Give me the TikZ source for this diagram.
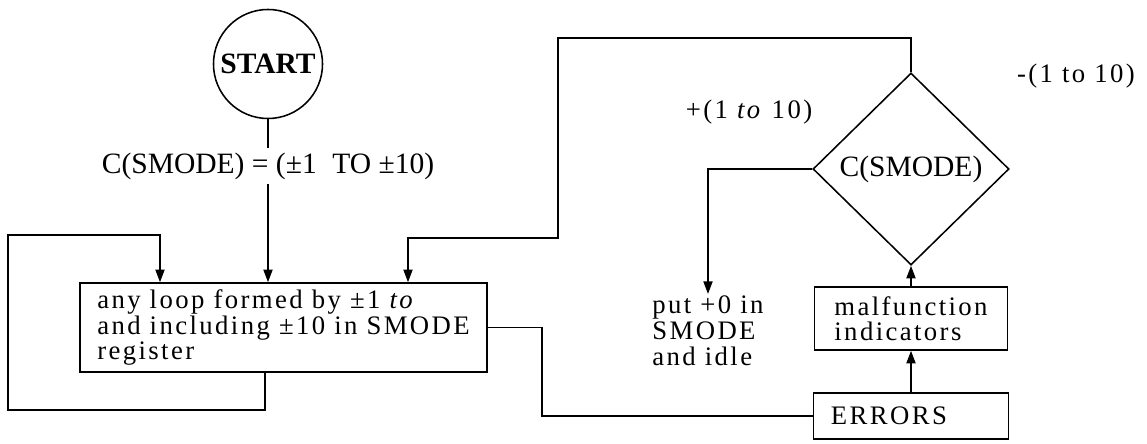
\documentclass[tikz,border=0pt]{standalone}
\usepackage{fontspec}
\setmainfont{Liberation Serif}
\newfontfamily\wideserif[LetterSpace=9]{Liberation Serif}
\usetikzlibrary{shapes.geometric,arrows.meta}

\tikzset{
  flowline/.style={line width=1.1pt},
  flowarrow/.style={flowline, -{Triangle[length=9pt,width=6.5pt]}},
  procbox/.style={draw, line width=1.1pt, align=left, inner sep=0pt,
    font=\wideserif\fontsize{19}{18}\selectfont},
  freetext/.style={inner sep=1pt, font=\wideserif\fontsize{19}{18.5}\selectfont},
  caplabel/.style={inner sep=3pt, font=\fontsize{21}{23}\selectfont},
  termcircle/.style={draw, circle, line width=1.1pt, inner sep=0pt,
    minimum size=2.725cm, font=\bfseries\fontsize{21}{23}\selectfont},
  testdiamond/.style={draw, diamond, line width=1.1pt, inner sep=0pt,
    minimum width=4.9cm, minimum height=4.8cm, font=\fontsize{21}{23}\selectfont}
}

\begin{document}
\begin{tikzpicture}[x=0.025cm, y=-0.025cm]
\useasboundingbox (0,0) rectangle (1147,444);

% boxes
\node[termcircle] (start) at (268,64) {START};
\node[caplabel] (cond) at (268,166) {C(SMODE) = (±1 \;TO ±10)};
\node[procbox, minimum width=10.175cm, minimum height=2.225cm] (loopbox) at (283.5,327.5)
  {any loop formed by ±1 \textit{to}\\and including ±10 in SMODE\\register};
\node[testdiamond] (decision) at (911,169) {C(SMODE)};
\node[procbox, minimum width=4.825cm, minimum height=1.575cm] (malfn) at (911,318.5)
  {malfunction\\indicators};
\node[procbox, minimum width=4.875cm, minimum height=1.15cm, text width=4.0cm] (errors) at (911,416)
  {ERRORS};

% labels
\node[freetext] (plusrange) at (749,112) {+(1 \textit{to} 10)};
\node[freetext] (minusrange) at (1076,76) {-(1 to 10)};
\node[freetext, align=left, anchor=north] (idle) at (708,294) {put +0 in\\SMODE\\and idle};

% bends
\coordinate (rturn) at (558,38);
\coordinate (rdrop) at (408,238);
\coordinate (lout) at (265,410);
\coordinate (lturn) at (8,235);
\coordinate (lin) at (160,235);
\coordinate (ejog) at (542,416);

% connectors
\draw[flowline] (start) -- (cond);
\draw[flowarrow] (cond) -- (loopbox.north -| cond);
\draw[flowarrow] (decision.north) |- (rturn) |- (rdrop) -- (rdrop |- loopbox.north);
\draw[flowarrow] (loopbox.south -| lout) -- (lout) -| (lturn) -- (lin) -- (lin |- loopbox.north);
\draw[flowline] (loopbox.east) -| (ejog) -- (errors.west);
\draw[flowarrow] (decision.west) -| (idle.north);
\draw[flowarrow] (malfn) -- (decision.south);
\draw[flowarrow] (errors) -- (malfn);
\end{tikzpicture}
\end{document}
